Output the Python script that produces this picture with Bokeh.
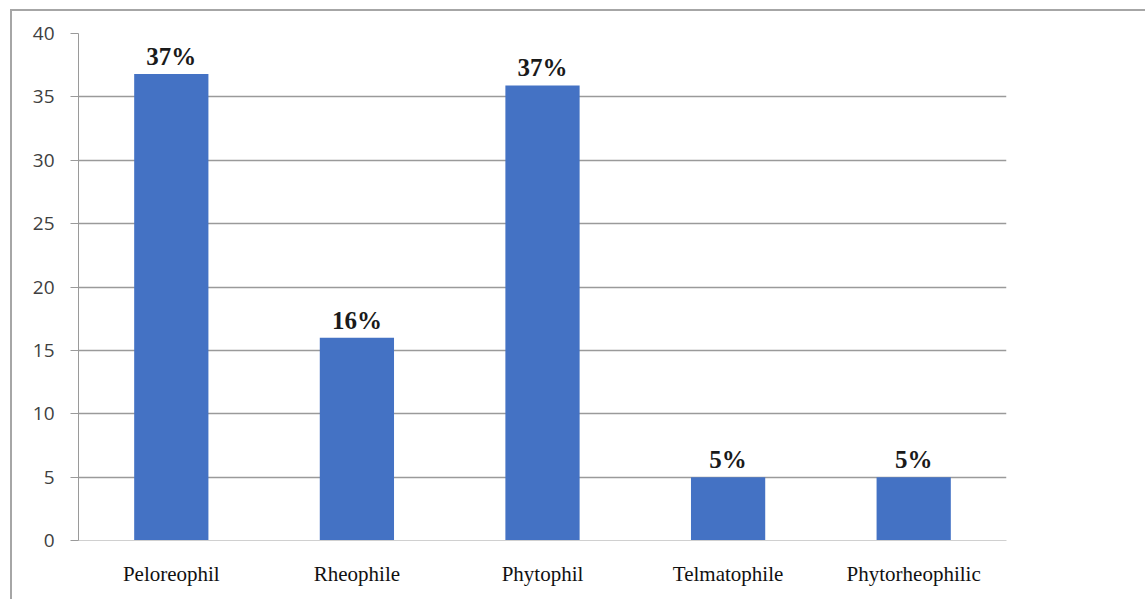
from bokeh.plotting import figure
from bokeh.models import ColumnDataSource, FixedTicker, Range1d
from bokeh.core.properties import value
from bokeh.embed import file_html
from bokeh.resources import INLINE

categories = ["Peloreophil", "Rheophile", "Phytophil", "Telmatophile", "Phytorheophilic"]
values = [36.8, 16, 35.9, 5, 5]
labels = ["37%", "16%", "37%", "5%", "5%"]
y_ticks = [0, 5, 10, 15, 20, 25, 30, 35, 40]

source = ColumnDataSource(dict(cat=categories, val=values, lab=labels))

p = figure(
    x_range=categories,
    y_range=Range1d(0, 40),
    width=1135, height=590,
    output_backend="svg", toolbar_location=None,
    min_border_left=66, min_border_right=141, min_border_top=22, min_border_bottom=61,
)
p.styles = {"margin-left": "10px", "margin-top": "9px",
            "border-top": "2px solid #a6a6a6", "border-left": "2px solid #a6a6a6"}
p.x_range.range_padding = 0
p.outline_line_color = None
p.background_fill_color = "white"
p.border_fill_color = "white"

p.vbar(x="cat", top="val", width=0.4, source=source, color="#4472C4", line_color=None)
p.text(x="cat", y="val", text="lab", source=source, text_align="center",
       text_baseline="bottom", y_offset=-4, text_font=value("Liberation Serif"),
       text_font_style="bold", text_font_size="25px", text_color="#1a1a1a")

p.xgrid.grid_line_color = None
p.ygrid.grid_line_color = "#9a9a9a"
p.ygrid.grid_line_width = 1.5
p.yaxis.ticker = FixedTicker(ticks=y_ticks)
p.yaxis.axis_line_color = "#9a9a9a"
p.yaxis.major_tick_line_color = "#9a9a9a"
p.yaxis.major_tick_out = 8
p.yaxis.major_tick_in = 0
p.yaxis.minor_tick_line_color = None
p.yaxis.major_label_standoff = 16
p.yaxis.major_label_text_font = "Open Sans"
p.yaxis.major_label_text_font_size = "19px"
p.yaxis.major_label_text_color = "#404040"

p.xaxis.axis_line_color = "#d0d0d0"
p.xaxis.major_tick_line_color = None
p.xaxis.major_label_standoff = 15
p.xaxis.major_label_text_font = "Liberation Serif"
p.xaxis.major_label_text_font_size = "21px"
p.xaxis.major_label_text_color = "#111111"

open("out.html", "w").write(file_html(p, INLINE))
